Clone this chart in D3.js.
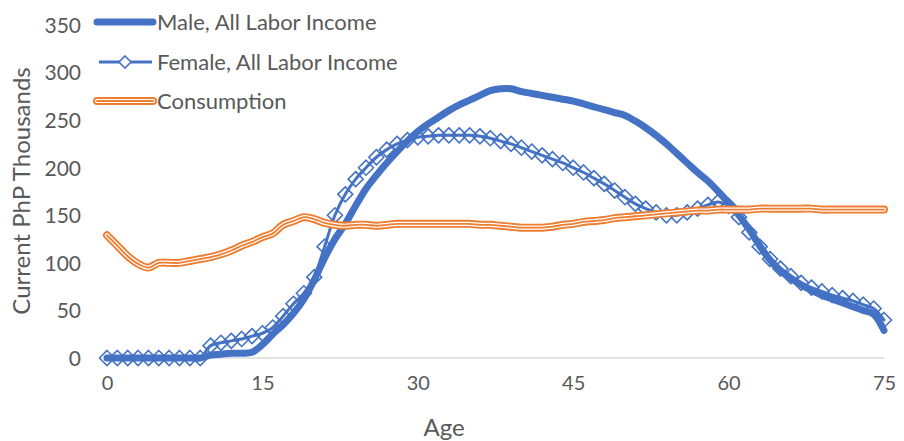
<!DOCTYPE html>
<html>
<head>
<meta charset="utf-8">
<script src="https://cdn.jsdelivr.net/npm/d3@7"></script>
<style>
  body { margin: 0; background: #fff; }
  text { font-family: Lato, "Open Sans", sans-serif; fill: #595959; }
</style>
</head>
<body>
<svg width="904" height="441"></svg>
<script>
var width = 904;
var height = 441;

// ages 0..75
var ages = d3.range(0, 76);

var male = [0, 0, 0, 0, 0, 0, 0, 0, 0, 0,
  3, 4, 5, 5, 6, 14, 25, 35, 47, 62,
  82, 105, 125, 141, 160, 178, 192, 205, 217, 228,
  238, 246, 253, 260, 266, 271, 276, 281, 283, 283,
  280, 278, 276, 274, 272, 270, 267, 264, 261, 258,
  255, 249, 242, 234, 225, 215, 205, 195, 186, 175,
  163, 150, 135, 118, 103, 92, 84, 77, 71, 66,
  62, 58, 54, 50, 46, 29];

var female = [0, 0, 0, 0, 0, 0, 0, 0, 0, 0,
  13, 16, 18, 20, 23, 26, 32, 44, 57, 68,
  85, 117, 150, 172, 188, 200, 211, 219, 225, 229,
  232, 233, 234, 234, 234, 234, 233, 231, 228, 225,
  221, 217, 213, 209, 205, 200, 195, 189, 183, 176,
  169, 162, 157, 153, 150, 150, 153, 157, 161, 164,
  160, 148, 132, 117, 104, 94, 86, 79, 74, 70,
  66, 63, 60, 56, 52, 40];

var consumption = [129, 118, 107, 99, 95, 100, 100, 100, 102, 104,
  106, 109, 113, 118, 122, 127, 131, 140, 144, 148,
  146, 142, 140, 139, 140, 140, 139, 140, 141, 141,
  141, 141, 141, 141, 141, 141, 140, 140, 139, 138,
  137, 137, 137, 138, 140, 141, 143, 144, 145, 147,
  148, 149, 150, 151, 152, 153, 154, 155, 155, 156,
  156, 156, 156, 157, 157, 157, 157, 157, 157, 156,
  156, 156, 156, 156, 156, 156];

var xTicks = [0, 15, 30, 45, 60, 75];
var yTicks = [0, 50, 100, 150, 200, 250, 300, 350];
var seriesNames = ["Male, All Labor Income", "Female, All Labor Income", "Consumption"];

var blue = "#4472C4";
var orange = "#ED7D31";

var svg = d3.select("svg");

var x = d3.scaleLinear().domain([0, 75]).range([107, 884]);
var y = d3.scaleLinear().domain([0, 350]).range([358, 25]);

// baseline
svg.append("line")
  .attr("x1", x(0)).attr("x2", x(75))
  .attr("y1", y(0)).attr("y2", y(0))
  .attr("stroke", "#d9d9d9").attr("stroke-width", 1.5);

// y axis labels
var yAxis = d3.axisLeft(y).tickValues(yTicks).tickSize(0).tickPadding(0);
var yg = svg.append("g").attr("transform", "translate(81,0)").call(yAxis);
yg.select(".domain").remove();
yg.selectAll("text").style("font-size", "21px").attr("dy", "0.35em");

// x axis labels
var xAxis = d3.axisBottom(x).tickValues(xTicks).tickSize(0).tickPadding(0);
var xg = svg.append("g").attr("transform", "translate(0,383)").call(xAxis);
xg.select(".domain").remove();
xg.selectAll("text").style("font-size", "20px").attr("dy", "0.35em");

// titles
svg.append("text")
  .attr("transform", "translate(22,191) rotate(-90)")
  .attr("text-anchor", "middle").attr("dy", "0.35em")
  .style("font-size", "24px")
  .text("Current PhP Thousands");

svg.append("text")
  .attr("x", 444).attr("y", 428)
  .attr("text-anchor", "middle").attr("dy", "0.35em")
  .style("font-size", "24px")
  .text("Age");

var line = d3.line()
  .x(function(d, i) { return x(ages[i]); })
  .y(function(d) { return y(d); })
  .curve(d3.curveCatmullRom.alpha(0.5));

// male
svg.append("path").datum(male)
  .attr("d", line)
  .attr("fill", "none").attr("stroke", blue)
  .attr("stroke-width", 7).attr("stroke-linecap", "round").attr("stroke-linejoin", "round");

// female
svg.append("path").datum(female)
  .attr("d", line)
  .attr("fill", "none").attr("stroke", blue)
  .attr("stroke-width", 3).attr("stroke-linecap", "round").attr("stroke-linejoin", "round");

var diamond = function(cx, cy, r) {
  return "M" + cx + "," + (cy - r) + "L" + (cx + r) + "," + cy + "L" + cx + "," + (cy + r) + "L" + (cx - r) + "," + cy + "Z";
};

svg.append("g").selectAll("path").data(female).enter().append("path")
  .attr("d", function(d, i) { return diamond(x(ages[i]), y(d), 7.5); })
  .attr("fill", "none").attr("stroke", blue).attr("stroke-width", 1.6);

// consumption (double line)
var consLayers = [[orange, 8], ["#fff", 4.2], [orange, 1.8]];
consLayers.forEach(function(l) {
  svg.append("path").datum(consumption)
    .attr("d", line)
    .attr("fill", "none").attr("stroke", l[0])
    .attr("stroke-width", l[1]).attr("stroke-linecap", "round").attr("stroke-linejoin", "round");
});

// legend
var lx1 = 97, lx2 = 153, tx = 157;
var rows = [22, 62, 101];

svg.append("line").attr("x1", lx1).attr("x2", lx2).attr("y1", rows[0]).attr("y2", rows[0])
  .attr("stroke", blue).attr("stroke-width", 7).attr("stroke-linecap", "round");

svg.append("line").attr("x1", lx1 + 2).attr("x2", lx2 - 1).attr("y1", rows[1]).attr("y2", rows[1])
  .attr("stroke", blue).attr("stroke-width", 3);
svg.append("path").attr("d", diamond(125, rows[1], 6))
  .attr("fill", "#fff").attr("stroke", blue).attr("stroke-width", 1.6);

consLayers.forEach(function(l) {
  svg.append("line").attr("x1", lx1).attr("x2", lx2).attr("y1", rows[2]).attr("y2", rows[2])
    .attr("stroke", l[0]).attr("stroke-width", l[1]).attr("stroke-linecap", "round");
});

svg.append("g").selectAll("text").data(seriesNames).enter().append("text")
  .attr("x", tx).attr("y", function(d, i) { return rows[i]; })
  .attr("dy", "0.35em")
  .style("font-size", "22px")
  .text(function(d) { return d; });
</script>
</body>
</html>
